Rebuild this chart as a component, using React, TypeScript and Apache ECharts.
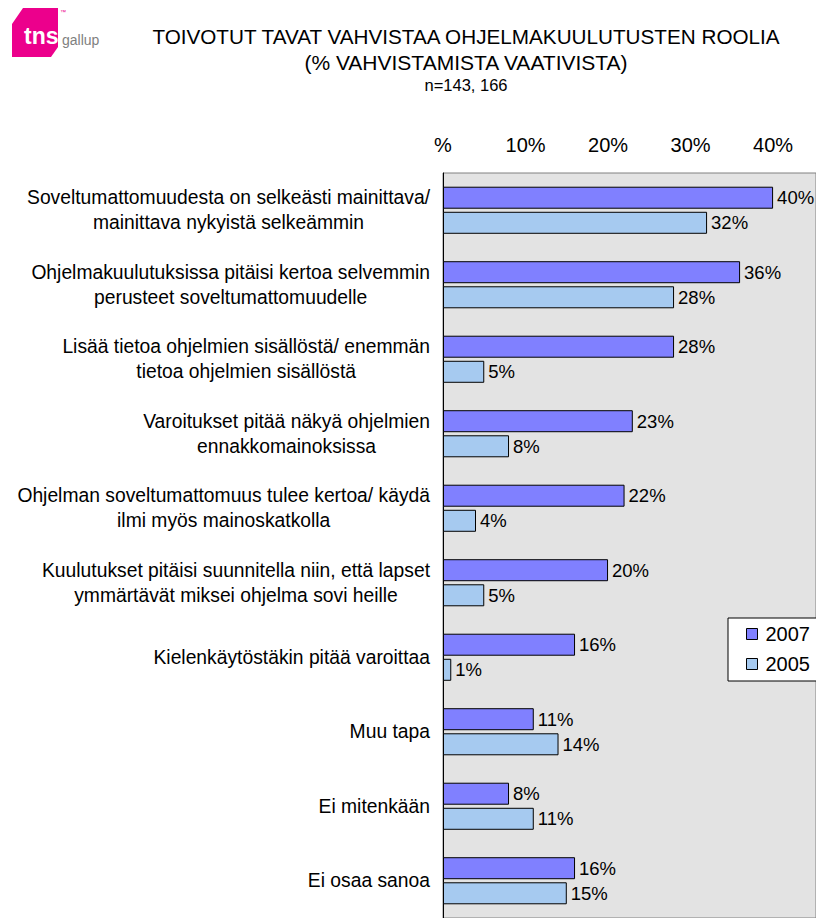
import React, { useEffect, useRef } from "react";
import * as echarts from "echarts";

const categories = [
  "Soveltumattomuudesta on selkeästi mainittava/\nmainittava nykyistä selkeämmin",
  "Ohjelmakuulutuksissa pitäisi kertoa selvemmin\nperusteet soveltumattomuudelle",
  "Lisää tietoa ohjelmien sisällöstä/ enemmän\ntietoa ohjelmien sisällöstä",
  "Varoitukset pitää näkyä ohjelmien\nennakkomainoksissa",
  "Ohjelman soveltumattomuus tulee kertoa/ käydä\nilmi myös mainoskatkolla",
  "Kuulutukset pitäisi suunnitella niin, että lapset\nymmärtävät miksei ohjelma sovi heille",
  "Kielenkäytöstäkin pitää varoittaa",
  "Muu tapa",
  "Ei mitenkään",
  "Ei osaa sanoa",
];
const values2007 = [40, 36, 28, 23, 22, 20, 16, 11, 8, 16];
const values2005 = [32, 28, 5, 8, 4, 5, 1, 14, 11, 15];
const seriesNames = ["2007", "2005"];
const titleLines = [
  "TOIVOTUT TAVAT VAHVISTAA OHJELMAKUULUTUSTEN ROOLIA",
  "(% VAHVISTAMISTA VAATIVISTA)",
];
const sampleNote = "n=143, 166";

const FONT = "'Liberation Sans', Arial, sans-serif";

export default function App() {
  const ref = useRef<HTMLDivElement>(null);
  useEffect(() => {
    document.body.style.margin = "0";
    const chart = echarts.init(ref.current!, null, { renderer: "svg" });
    const labelStyle = {
      show: true,
      position: "right" as const,
      distance: 4,
      formatter: "{c}%",
      fontSize: 18.5,
      color: "#000",
      fontFamily: FONT,
    };
    chart.setOption({
      animation: false,
      backgroundColor: "#fff",
      textStyle: { fontFamily: FONT },
      grid: {
        left: 443,
        top: 173,
        width: 373,
        height: 750,
        show: true,
        backgroundColor: "#e3e3e3",
        borderColor: "#808080",
        borderWidth: 1,
        containLabel: false,
      },
      legend: {
        data: seriesNames,
        orient: "vertical",
        left: 728,
        top: 618,
        width: 120,
        backgroundColor: "#fff",
        borderColor: "#000",
        borderWidth: 1,
        borderRadius: 0,
        padding: [6, 20, 7, 18],
        itemGap: 10,
        itemWidth: 11,
        itemHeight: 11,
        icon: "rect",
        itemStyle: { borderColor: "#000", borderWidth: 1 },
        textStyle: { fontSize: 20, color: "#000", fontFamily: FONT, lineHeight: 20, padding: [0, 0, 0, 3] },
      },
      xAxis: {
        type: "value",
        position: "top",
        min: 0,
        max: 45.2,
        interval: 10,
        splitLine: { show: false },
        axisLine: { show: false },
        axisTick: { show: false },
        axisLabel: {
          fontSize: 20,
          color: "#000",
          fontFamily: FONT,
          margin: 18,
          showMaxLabel: false,
          formatter: (v: number) => (v === 0 ? "%" : v % 10 === 0 ? v + "%" : ""),
        },
      },
      yAxis: {
        type: "category",
        inverse: true,
        data: categories,
        axisLine: { show: true, lineStyle: { color: "#000", width: 1 } },
        axisTick: { show: false },
        axisLabel: {
          margin: 13,
          formatter: (v: string) =>
            v
              .split("\n")
              .map((l) => `{c|${l}}`)
              .join("\n"),
          rich: {
            c: {
              align: "center",
              fontSize: 19.3,
              lineHeight: 25,
              color: "#000",
              fontFamily: FONT,
            },
          },
        },
      },
      series: [
        {
          name: seriesNames[0],
          type: "bar",
          data: values2007,
          barWidth: 22,
          barGap: "14%",
          itemStyle: { color: "#8080ff", borderColor: "#000", borderWidth: 1 },
          label: labelStyle,
        },
        {
          name: seriesNames[1],
          type: "bar",
          data: values2005,
          barWidth: 22,
          barGap: "14%",
          itemStyle: { color: "#a6caf0", borderColor: "#000", borderWidth: 1 },
          label: labelStyle,
        },
      ],
      graphic: [
        {
          type: "polygon",
          shape: {
            points: [
              [23, 8],
              [58, 8],
              [58, 47],
              [51, 57],
              [12, 57],
              [12, 24],
            ],
          },
          style: { fill: "#ec008c" },
        },
        {
          type: "text",
          x: 24,
          y: 36,
          style: {
            text: "tns",
            fill: "#fff",
            font: `bold 23px ${FONT}`,
            textVerticalAlign: "middle",
          },
        },
        {
          type: "text",
          x: 60,
          y: 9,
          style: { text: "™", fill: "#ec008c", font: `6px ${FONT}` },
        },
        {
          type: "text",
          x: 62,
          y: 40,
          style: {
            text: "gallup",
            fill: "#808080",
            font: `14px ${FONT}`,
            textVerticalAlign: "middle",
          },
        },
        {
          type: "text",
          x: 466,
          y: 36,
          style: {
            text: titleLines[0],
            fill: "#000",
            font: `20.7px ${FONT}`,
            textAlign: "center",
            textVerticalAlign: "middle",
          },
        },
        {
          type: "text",
          x: 466,
          y: 62,
          style: {
            text: titleLines[1],
            fill: "#000",
            font: `21px ${FONT}`,
            textAlign: "center",
            textVerticalAlign: "middle",
          },
        },
        {
          type: "text",
          x: 466,
          y: 85,
          style: {
            text: sampleNote,
            fill: "#000",
            font: `16.5px ${FONT}`,
            textAlign: "center",
            textVerticalAlign: "middle",
          },
        },
      ],
    });
    return () => chart.dispose();
  }, []);
  return <div ref={ref} style={{ width: 816, height: 918 }} />;
}
